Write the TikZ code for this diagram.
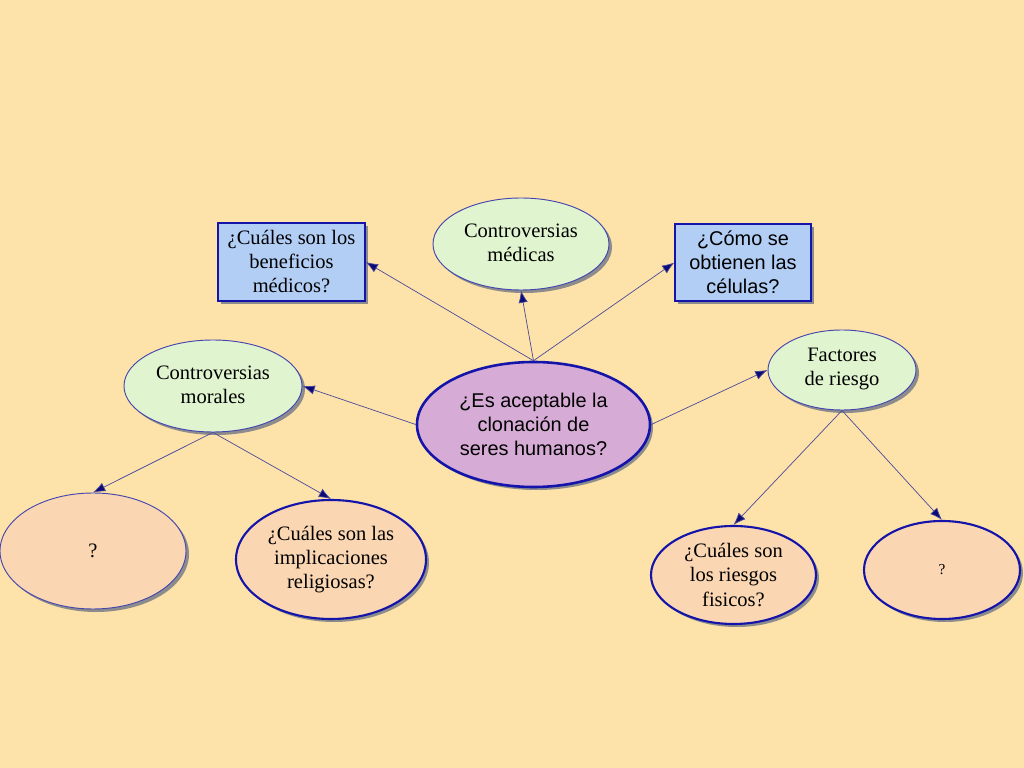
\documentclass[tikz,border=0pt]{standalone}
\usepackage{fontspec}
\setmainfont{Liberation Serif}
\newfontfamily\arialf{Liberation Sans}
\usetikzlibrary{shapes.geometric,arrows.meta,shadows}
\definecolor{bgc}{RGB}{253,226,169}
\definecolor{boxc}{RGB}{178,206,245}
\definecolor{greenc}{RGB}{224,244,208}
\definecolor{lilacc}{RGB}{214,172,214}
\definecolor{peachc}{RGB}{250,214,178}
\definecolor{thinb}{RGB}{70,70,175}
\definecolor{thickb}{RGB}{20,20,170}
\definecolor{linec}{RGB}{75,75,155}
\definecolor{tipc}{RGB}{10,10,120}
\tikzset{
  shad/.style={drop shadow={shadow xshift=0.09cm,shadow yshift=-0.09cm,fill=black!45,opacity=1}},
  txt/.style={align=center,font=\fontsize{17.5}{20.5}\selectfont,inner sep=0pt,text=black},
  sanstxt/.style={align=center,font=\arialf\fontsize{17}{20.5}\selectfont,inner sep=0pt,text=black},
  qbox/.style={rectangle,draw=thickb,line width=1.1pt,fill=boxc,shad},
  gell/.style={ellipse,draw=thinb,line width=0.8pt,fill=greenc,shad},
  pthin/.style={ellipse,draw=thinb,line width=0.8pt,fill=peachc,shad},
  pthick/.style={ellipse,draw=thickb,line width=1.8pt,fill=peachc,shad},
  cell/.style={ellipse,draw=thickb,line width=2.2pt,fill=lilacc,shad},
  conn/.style={draw=linec,line width=0.6pt,-{Latex[length=10.5pt,width=8pt,fill=tipc]}},
}
\begin{document}
\begin{tikzpicture}[x=0.03cm,y=-0.03cm]
\fill[bgc] (0,0) rectangle (1024,768);
\useasboundingbox (0,0) rectangle (1024,768);

\node[qbox,minimum width=147*0.03cm,minimum height=78*0.03cm] (b1) at (291.5,262) {};
\node[txt] at (b1) {¿Cuáles son los\\beneficios\\médicos?};

\node[gell,minimum width=176*0.03cm,minimum height=92*0.03cm] (m) at (521,244) {};
\node[txt] at (521,243) {Controversias\\médicas};

\node[qbox,minimum width=136*0.03cm,minimum height=77*0.03cm] (b2) at (743,262.5) {};
\node[sanstxt] at (b2) {¿Cómo se\\obtienen las\\células?};

\node[cell,minimum width=233*0.03cm,minimum height=125*0.03cm] (c) at (533.5,424.5) {};
\node[sanstxt] at (c) {¿Es aceptable la\\clonación de\\seres humanos?};

\node[gell,minimum width=178*0.03cm,minimum height=92*0.03cm] (mo) at (213,386) {};
\node[txt] at (213,385) {Controversias\\morales};

\node[gell,minimum width=148*0.03cm,minimum height=80*0.03cm] (f) at (842,370) {};
\node[txt] at (842,369) {Factores\\de riesgo};

\node[pthin,minimum width=186*0.03cm,minimum height=116*0.03cm] (q1) at (93,551) {};
\node[txt] at (q1) {?};

\node[pthick,minimum width=190*0.03cm,minimum height=119*0.03cm] (r) at (331,559.5) {};
\node[txt] at (r) {¿Cuáles son las\\implicaciones\\religiosas?};

\node[pthick,minimum width=165*0.03cm,minimum height=98*0.03cm] (rf) at (733.5,575) {};
\node[txt] at (rf) {¿Cuáles son\\los riesgos\\fisicos?};

\node[pthick,minimum width=156*0.03cm,minimum height=98*0.03cm] (q2) at (942,570) {};
\node[txt,font=\fontsize{13}{15}\selectfont] at (q2) {?};

\draw[conn] (c.north) -- (b1.east);
\draw[conn] (c.north) -- (m.south);
\draw[conn] (c.north) -- (b2.west);
\draw[conn] (c.west) -- (mo.east);
\draw[conn] (c.east) -- (f.west);
\draw[conn] (mo.south) -- (q1.north);
\draw[conn] (mo.south) -- (r.north);
\draw[conn] (f.south) -- (rf.north);
\draw[conn] (f.south) -- (q2.north);
\end{tikzpicture}
\end{document}
